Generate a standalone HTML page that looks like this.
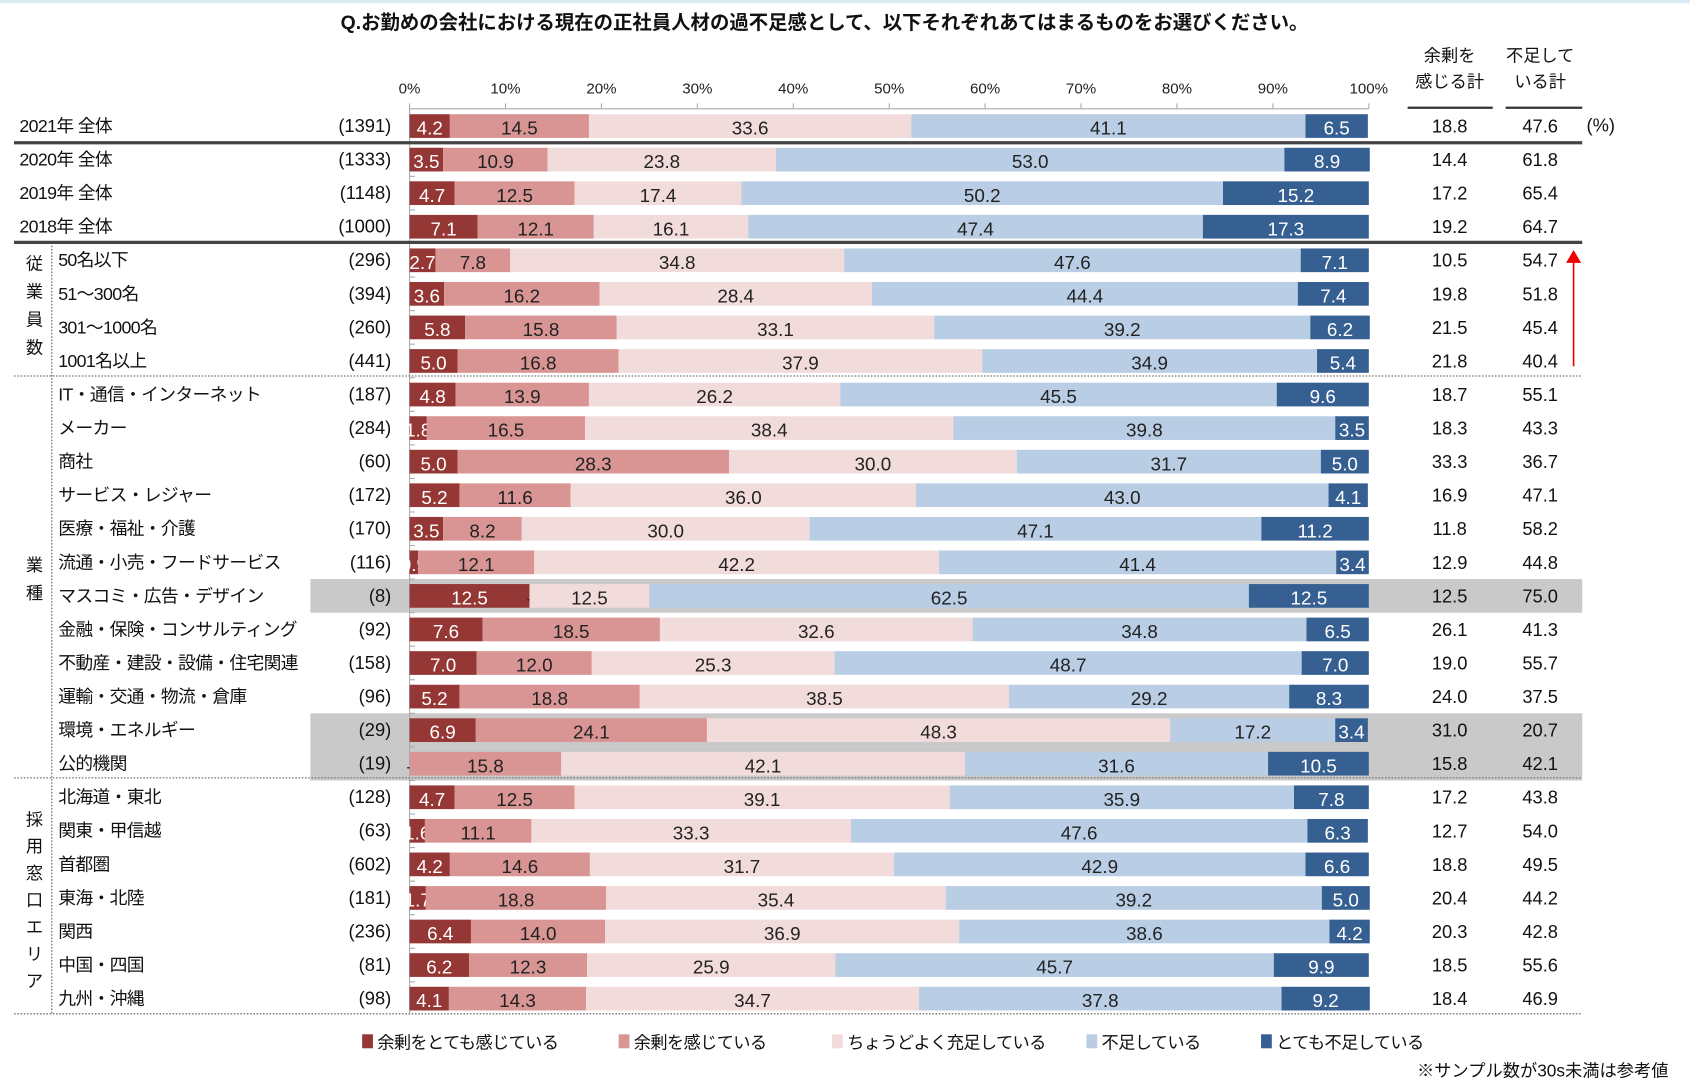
<!DOCTYPE html>
<html><head><meta charset="utf-8">
<style>
html,body{margin:0;padding:0;background:#fff;}
svg{display:block;font-family:"Liberation Sans","Noto Sans CJK JP",sans-serif;}
</style></head>
<body>
<svg id="chart" width="1690" height="1086" viewBox="0 0 1568 1008" preserveAspectRatio="none" xmlns="http://www.w3.org/2000/svg">
<rect x="0" y="0" width="1568" height="3" fill="#dbeaf3"/>
<text x="765" y="27" text-anchor="middle" font-size="18" font-weight="bold" fill="#111">Q.お勤めの会社における現在の正社員人材の過不足感として、以下それぞれあてはまるものをお選びください。</text>
<g id="hl"></g>
<g id="axis"></g>
<g id="rows"></g>
<g id="deco"></g>
</svg>
<script>
const categories = ["2021年 全体","2020年 全体","2019年 全体","2018年 全体","50名以下","51～300名","301～1000名","1001名以上","IT・通信・インターネット","メーカー","商社","サービス・レジャー","医療・福祉・介護","流通・小売・フードサービス","マスコミ・広告・デザイン","金融・保険・コンサルティング","不動産・建設・設備・住宅関連","運輸・交通・物流・倉庫","環境・エネルギー","公的機関","北海道・東北","関東・甲信越","首都圏","東海・北陸","関西","中国・四国","九州・沖縄"];
const sampleSizes = ["(1391)","(1333)","(1148)","(1000)","(296)","(394)","(260)","(441)","(187)","(284)","(60)","(172)","(170)","(116)","(8)","(92)","(158)","(96)","(29)","(19)","(128)","(63)","(602)","(181)","(236)","(81)","(98)"];
const surplusVery = [4.2,3.5,4.7,7.1,2.7,3.6,5.8,5.0,4.8,1.8,5.0,5.2,3.5,0.9,12.5,7.6,7.0,5.2,6.9,0,4.7,1.6,4.2,1.7,6.4,6.2,4.1];
const surplus = [14.5,10.9,12.5,12.1,7.8,16.2,15.8,16.8,13.9,16.5,28.3,11.6,8.2,12.1,0,18.5,12.0,18.8,24.1,15.8,12.5,11.1,14.6,18.8,14.0,12.3,14.3];
const adequate = [33.6,23.8,17.4,16.1,34.8,28.4,33.1,37.9,26.2,38.4,30.0,36.0,30.0,42.2,12.5,32.6,25.3,38.5,48.3,42.1,39.1,33.3,31.7,35.4,36.9,25.9,34.7];
const shortage = [41.1,53.0,50.2,47.4,47.6,44.4,39.2,34.9,45.5,39.8,31.7,43.0,47.1,41.4,62.5,34.8,48.7,29.2,17.2,31.6,35.9,47.6,42.9,39.2,38.6,45.7,37.8];
const shortageVery = [6.5,8.9,15.2,17.3,7.1,7.4,6.2,5.4,9.6,3.5,5.0,4.1,11.2,3.4,12.5,6.5,7.0,8.3,3.4,10.5,7.8,6.3,6.6,5.0,4.2,9.9,9.2];
const surplusTotal = ["18.8","14.4","17.2","19.2","10.5","19.8","21.5","21.8","18.7","18.3","33.3","16.9","11.8","12.9","12.5","26.1","19.0","24.0","31.0","15.8","17.2","12.7","18.8","20.4","20.3","18.5","18.4"];
const shortageTotal = ["47.6","61.8","65.4","64.7","54.7","51.8","45.4","40.4","55.1","43.3","36.7","47.1","58.2","44.8","75.0","41.3","55.7","37.5","20.7","42.1","43.8","54.0","49.5","44.2","42.8","55.6","46.9"];
const tickLabels = ["0%","10%","20%","30%","40%","50%","60%","70%","80%","90%","100%"];
const seriesNames = ["余剰をとても感じている","余剰を感じている","ちょうどよく充足している","不足している","とても不足している"];
const highlighted = [14,18,19];

const NS="http://www.w3.org/2000/svg";
const X0=380, X1=1270;
const xs = v => X0 + (X1-X0)*v/100;
const rowY = i => 117 + i*31.15;
const colors=["#953735","#d99594","#f2dcdb","#b9cde5","#376092"];
const txtCol=["#fff","#222","#222","#222","#fff"];
function el(tag,attrs,parent,text){const e=document.createElementNS(NS,tag);for(const k in attrs)e.setAttribute(k,attrs[k]);if(text!==undefined)e.textContent=text;parent.appendChild(e);return e;}

const hl=document.getElementById('hl');
highlighted.forEach(i=>{
  const r=el('rect',{x:288,y:rowY(i)-15.6,width:1180,height:31.2,fill:'#c9c9c9'},hl);
  
  
});

const ax=document.getElementById('axis');
el('line',{x1:X0,y1:101,x2:X1,y2:101,stroke:'#aaa','stroke-width':1},ax);
el('line',{x1:X0,y1:101,x2:X0,y2:941,stroke:'#aaa','stroke-width':1},ax);
tickLabels.forEach((t,k)=>{
  const v=k*10;
  el('line',{x1:xs(v),y1:96,x2:xs(v),y2:101,stroke:'#aaa'},ax);
  const tx=el('text',{x:xs(v),y:87,'text-anchor':'middle','font-size':14,fill:'#222'},ax,t);
  
  
});
for(let i=1;i<categories.length;i++){el('line',{x1:X0,y1:rowY(i)-15.6,x2:X0+5,y2:rowY(i)-15.6,stroke:'#aaa'},ax);}

const rows=document.getElementById('rows');
const series=[surplusVery,surplus,adequate,shortage,shortageVery];
categories.forEach((c,i)=>{
  const y=rowY(i);
  const g=el('g',{},rows);
  
  
  const lab=el('text',{x:i<4?18:54,y:y+5.5,'font-size':16.5,'letter-spacing':'-0.6',fill:'#111'},g,c);
  
  
  const n=el('text',{x:363,y:y+5.5,'text-anchor':'end','font-size':17,fill:'#111'},g,sampleSizes[i]);
  
  
  let acc=0;
  series.forEach((s,k)=>{
    const v=s[i];
    const x=xs(acc), w=xs(acc+v)-x;
    const r=el('rect',{x:x,y:y-11,width:w,height:22,fill:colors[k]},g);
    
    
    const lt=v===0?'-':v.toFixed(1);
    const t=el('text',{x:x+w/2,y:y+8,'text-anchor':'middle','font-size':17.5,fill:v===0?'#222':txtCol[k]},g,lt);
    
    
    acc+=v;
  });
  const a=el('text',{x:1345,y:y+6,'text-anchor':'middle','font-size':17,fill:'#111'},g,surplusTotal[i]);
  
  
  const b=el('text',{x:1429,y:y+6,'text-anchor':'middle','font-size':17,fill:'#111'},g,shortageTotal[i]);
  
  
});

const d=document.getElementById('deco');
function t(x,y,s,name,opts){const e=el('text',Object.assign({x:x,y:y,'font-size':16,fill:'#111'},opts||{}),d,s);return e;}
t(1345,57,'余剰を','surplus-header',{'text-anchor':'middle'});
t(1345,81,'感じる計','surplus-header',{'text-anchor':'middle'});
t(1429,57,'不足して','shortage-header',{'text-anchor':'middle'});
t(1429,81,'いる計','shortage-header',{'text-anchor':'middle'});
el('line',{x1:1306,y1:100,x2:1385,y2:100,stroke:'#333','stroke-width':2},d);
el('line',{x1:1397,y1:100,x2:1468,y2:100,stroke:'#333','stroke-width':2},d);
t(1472,122,'(%)','unit-label',{'font-size':17});
[132.5,225].forEach(y=>el('line',{x1:13,y1:y,x2:1468,y2:y,stroke:'#444','stroke-width':3},d));
[349,722,941].forEach(y=>el('line',{x1:13,y1:y,x2:1468,y2:y,stroke:'#777','stroke-width':1.2,'stroke-dasharray':'1.5,1.5'},d));
el('line',{x1:48,y1:228,x2:48,y2:941,stroke:'#777','stroke-width':1.2,'stroke-dasharray':'1.5,1.5'},d);
[['従',250],['業',276],['員',302],['数',328],['業',530],['種',556],['採',766],['用',791],['窓',816],['口',841],['エ',866],['リ',891],['ア',916]].forEach(p=>t(32,p[1],p[0],'group-label',{'text-anchor':'middle'}));
el('line',{x1:1460,y1:340,x2:1460,y2:240,stroke:'#e00','stroke-width':1.5},d);
el('polygon',{points:'1453,244 1460,232 1467,244',fill:'#e00'},d);
const lx=[336,574,772,1008,1170];
seriesNames.forEach((s,k)=>{
  const r=el('rect',{x:lx[k],y:960,width:10,height:13,fill:colors[k]},d);
  
  
  t(lx[k]+14,973,s,'legend-entry',{'letter-spacing':'-0.6'});
});
t(1548,999,'※サンプル数が30s未満は参考値','footnote',{'text-anchor':'end'});
</script>
</body></html>
